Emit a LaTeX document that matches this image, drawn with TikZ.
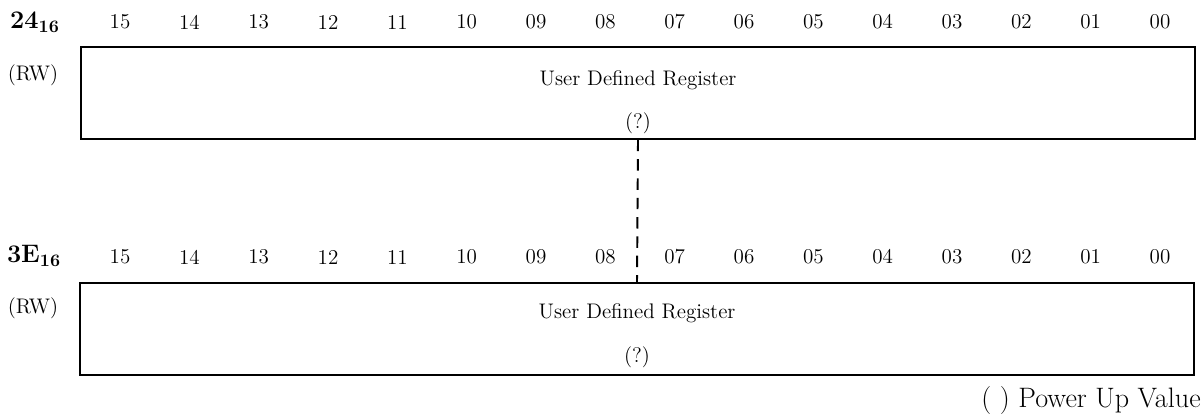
\documentclass[tikz,border=0pt]{standalone}
\usetikzlibrary{positioning}

\tikzset{
  regbox/.style={draw,line width=0.9pt,minimum width=22.28cm,minimum height=1.84cm,inner sep=0pt},
  bitnum/.style={font=\large,inner sep=1pt},
  addr/.style={font=\Large\bfseries,inner sep=1pt},
  access/.style={font=\large,inner sep=1pt},
  regtext/.style={font=\large,inner sep=1pt}
}

\begin{document}
\begin{tikzpicture}[x=0.02cm,y=-0.02cm]
      \useasboundingbox (0,0) rectangle (1203,418);

      %%%%%%%%%%%%%%%%%%%%%%%%%%%%%%%%%%%%%%%%%%%%%%%%%%%%%%%%%%%%%%%%%%%%%%%%%%%
      %%%%  Register 24
      \node[addr] (addrA) at (35,22) {24$_{\mathbf{16}}$};
      \node[access] (rwA) at (33,75) {(RW)};
      \node[regbox] (regA) at (638,93) {};
      \foreach \b in {0,...,15}
       {\pgfmathsetmacro\bx{1160 - 69.33*\b}
        \node[bitnum] (bitA\b) at (\bx,22) {\ifnum\b<10 0\fi\b};
       };
      \node[regtext] (nameA) at (638,80) {User Defined Register};
      \node[regtext] (puA) at (638,123) {(?)};

      %%%%%%%%%%%%%%%%%%%%%%%%%%%%%%%%%%%%%%%%%%%%%%%%%%%%%%%%%%%%%%%%%%%%%%%%%%%
      %%%%  Register 3E
      \node[addr] (addrB) at (34,256) {3E$_{\mathbf{16}}$};
      \node[access] (rwB) at (33,308) {(RW)};
      \node[regbox] (regB) at (637,329) {};
      \foreach \b in {0,...,15}
       {\pgfmathsetmacro\bx{1160 - 69.33*\b}
        \node[bitnum] (bitB\b) at (\bx,257) {\ifnum\b<10 0\fi\b};
       };
      \node[regtext] (nameB) at (637,313) {User Defined Register};
      \node[regtext] (puB) at (637,357) {(?)};

      % the two registers are not contiguous
      \draw[line width=1.1pt,dash pattern=on 6.5pt off 4.5pt] (regA.south) -- (regB.north);

      \node[font=\fontsize{16}{18}\selectfont,anchor=east,inner sep=0pt] (note) at (1201,400) {( ) Power Up Value};
    \end{tikzpicture}
\end{document}
